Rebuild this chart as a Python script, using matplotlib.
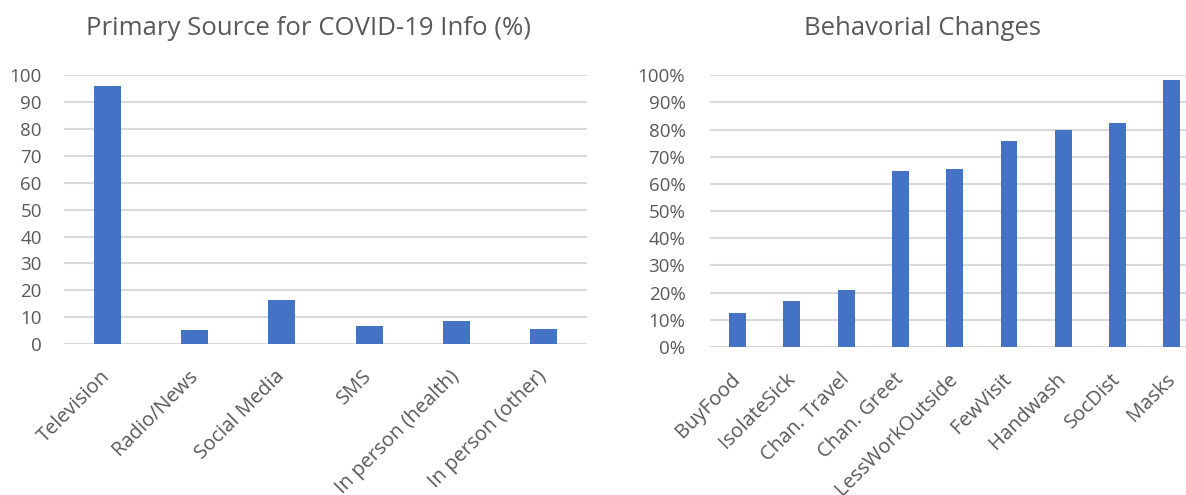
import matplotlib
matplotlib.use('Agg')
import matplotlib.pyplot as plt
from matplotlib.ticker import FuncFormatter

# Survey results
sources = ['Television', 'Radio/News', 'Social Media', 'SMS',
           'In person (health)', 'In person (other)']
source_pct = [96.0, 5.2, 16.5, 6.7, 8.4, 5.5]

behaviours = ['BuyFood', 'IsolateSick', 'Chan. Travel', 'Chan. Greet',
              'LessWorkOutside', 'FewVisit', 'Handwash', 'SocDist', 'Masks']
behaviour_frac = [0.125, 0.170, 0.210, 0.647, 0.656, 0.758, 0.798, 0.823, 0.983]

BAR = '#4472C4'
GRID = '#D9D9D9'
TEXT = '#595959'

plt.rcParams['font.family'] = ['Open Sans', 'DejaVu Sans']


def style_axes(ax, ticks, pad):
    '''Excel-like look: no spines, light horizontal grid, grey labels'''
    for s in ax.spines.values():
        s.set_visible(False)
    ax.set_yticks(ticks)
    ax.grid(axis='y', color=GRID, linewidth=1.5, zorder=0)
    ax.set_axisbelow(True)
    ax.tick_params(axis='both', length=0, labelcolor=TEXT)
    ax.tick_params(axis='y', pad=pad, labelsize=13.5)
    ax.tick_params(axis='x', pad=21, labelsize=14.5)
    for lab in ax.get_xticklabels():
        lab.set_rotation(45)
        lab.set_ha('right')
        lab.set_va('center')
        lab.set_rotation_mode('anchor')


fig = plt.figure(figsize=(11.86, 4.95), dpi=100)

# Left: information sources
ax1 = fig.add_axes([0.054, 0.305, 0.441, 0.543])
ax1.bar(range(len(sources)), source_pct, width=0.31, color=BAR, zorder=3)
ax1.set_xlim(-0.5, len(sources) - 0.5)
ax1.set_ylim(0, 100)
ax1.set_xticks(range(len(sources)))
ax1.set_xticklabels(sources)
style_axes(ax1, range(0, 101, 10), 16)
fig.text(0.2597, 0.943, 'Primary Source for COVID-19 Info (%)', fontsize=18.5,
         color=TEXT, ha='center', va='center')

# Right: behaviour changes
ax2 = fig.add_axes([0.599, 0.299, 0.412, 0.549])
ax2.bar(range(len(behaviours)), behaviour_frac, width=0.31, color=BAR, zorder=3)
ax2.set_xlim(-0.5, len(behaviours) - 0.5)
ax2.set_ylim(0, 1)
ax2.set_xticks(range(len(behaviours)))
ax2.set_xticklabels(behaviours)
style_axes(ax2, [i / 10 for i in range(11)], 18)
ax2.yaxis.set_major_formatter(FuncFormatter(lambda v, p: '{:.0f}%'.format(v * 100)))
fig.text(0.778, 0.943, 'Behavorial Changes', fontsize=18.5,
         color=TEXT, ha='center', va='center')

fig.savefig('out.png', dpi=100)
